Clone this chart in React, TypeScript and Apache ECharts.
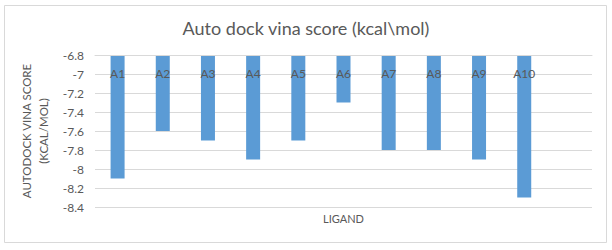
import React, { useEffect, useRef } from "react";
import * as echarts from "echarts";

const categories = ["A1", "A2", "A3", "A4", "A5", "A6", "A7", "A8", "A9", "A10", ""];
const scores = [-8.1, -7.6, -7.7, -7.9, -7.7, -7.3, -7.8, -7.8, -7.9, -8.3];
const yMin = -8.4;
const yMax = -6.8;
const yStep = 0.2;
const titleText = "Auto dock vina score (kcal\\mol)";
const yTitle = "AUTODOCK VINA SCORE\n(KCAL/MOL)";
const xTitle = "LIGAND";

const FONT = "Lato, 'Open Sans', sans-serif";
const TEXT = "#595959";
const GRID = "#D9D9D9";

export default function App() {
  const ref = useRef<HTMLDivElement>(null);
  useEffect(() => {
    document.body.style.margin = "0";
    const chart = echarts.init(ref.current!, null, { renderer: "svg" });
    chart.setOption({
      animation: false,
      backgroundColor: "#ffffff",
      textStyle: { fontFamily: FONT },
      title: {
        text: titleText,
        left: "center",
        top: 14,
        textStyle: { fontFamily: FONT, fontSize: 18, fontWeight: "normal", color: TEXT },
      },
      graphic: [
        {
          type: "rect",
          shape: { x: 4.5, y: 5.5, width: 602, height: 237 },
          style: { fill: "none", stroke: GRID, lineWidth: 1 },
          silent: true,
        },
      ],
      grid: { left: 95, right: 20, top: 55, bottom: 43 },
      xAxis: [
        {
          type: "category",
          data: categories,
          position: "top",
          axisLine: { show: true, lineStyle: { color: GRID } },
          axisTick: { show: false },
          axisLabel: {
            inside: true,
            margin: 12,
            fontSize: 12,
            color: TEXT,
            fontFamily: FONT,
            interval: 0,
          },
          z: 10,
        },
        {
          type: "category",
          data: categories,
          position: "bottom",
          axisLine: { show: false },
          axisTick: { show: false },
          axisLabel: { show: false },
          name: xTitle,
          nameLocation: "middle",
          nameGap: 6,
          nameTextStyle: { fontSize: 11, color: TEXT, fontFamily: FONT, verticalAlign: "top" },
        },
      ],
      yAxis: {
        type: "value",
        min: yMin,
        max: yMax,
        interval: yStep,
        axisLine: { show: false },
        axisTick: { show: false },
        splitLine: { lineStyle: { color: GRID } },
        axisLabel: { fontSize: 12, color: TEXT, margin: 11, fontFamily: FONT },
        name: yTitle,
        nameLocation: "middle",
        nameRotate: 90,
        nameGap: 42,
        nameTextStyle: { fontSize: 11.5, color: TEXT, fontFamily: FONT, lineHeight: 17, align: "center" },
      },
      series: [
        {
          type: "bar",
          data: scores,
          barWidth: 14,
          clip: true,
          itemStyle: { color: "#5B9BD5" },
          xAxisIndex: 0,
        },
      ],
    });
    return () => chart.dispose();
  }, []);
  return <div ref={ref} style={{ width: 612, height: 250 }} />;
}
